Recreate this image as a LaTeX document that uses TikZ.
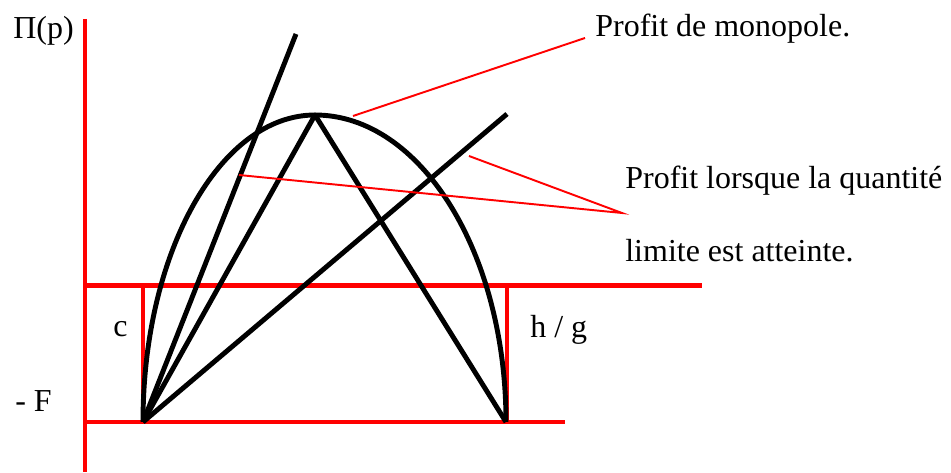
\documentclass[tikz,border=0pt]{standalone}
\usepackage{fontspec}
\setmainfont{Liberation Serif}
\usepackage{tikz}

\begin{document}
\begin{tikzpicture}[
x=0.02cm, y=0.02cm,
axe/.style={draw=red, line width=2.8pt},
note/.style={draw=red, line width=1.1pt},
courbe/.style={draw=black, line width=2.8pt, line join=round},
lbl/.style={anchor=base west, inner sep=0pt, font=\fontsize{18.2}{22}\selectfont}
]
\useasboundingbox (0,0) rectangle (951,473);

% axes and levels
\coordinate (ytop) at (85,454);
\coordinate (ybot) at (85,1);
\coordinate (c0) at (85,187.5);
\coordinate (c1) at (702,187.5);
\coordinate (f0) at (85,51);
\coordinate (f1) at (565,51);
\coordinate (cA) at (143,187.5);
\coordinate (cB) at (507,187.5);
\coordinate (fA) at (143,51);
\coordinate (fB) at (507,51);

\draw[axe] (ytop) -- (ybot);
\draw[axe] (c0) -- (c1);
\draw[axe] (f0) -- (f1);
\draw[axe] (cA) -- (fA);
\draw[axe] (cB) -- (fB);

% profit curve and rays
\coordinate (A) at (143,51);
\coordinate (B) at (506,51);
\coordinate (P) at (315,358);
\coordinate (R1) at (296,439);
\coordinate (R2) at (507,359);

\draw[courbe] (A) arc[start angle=180, end angle=90, x radius=172, y radius=307]
  arc[start angle=90, end angle=0, x radius=191, y radius=307];
\draw[courbe] (A) -- (R1);
\draw[courbe] (A) -- (P) -- (B);
\draw[courbe] (A) -- (R2);

% labels
\node[lbl] (pi) at (13,434) {Π(p)};
\node[lbl] (mF) at (15,61) {- F};
\node[lbl] (lc) at (113,136) {c};
\node[lbl] (lhg) at (530,135) {h / g};
\node[lbl] (mono) at (595,436) {Profit de monopole.};
\node[lbl] (lim1) at (625,284) {Profit lorsque la quantité};
\node[lbl] (lim2) at (625,211) {limite est atteinte.};

% pointers
\coordinate (m0) at (353,357);
\coordinate (m1) at (585,435);
\coordinate (q0) at (469,317);
\coordinate (q1) at (239,298);
\coordinate (qt) at (622,260);
\draw[note] (m0) -- (m1);
\draw[note] (q0) -- (qt) -- (q1);
\end{tikzpicture}
\end{document}
